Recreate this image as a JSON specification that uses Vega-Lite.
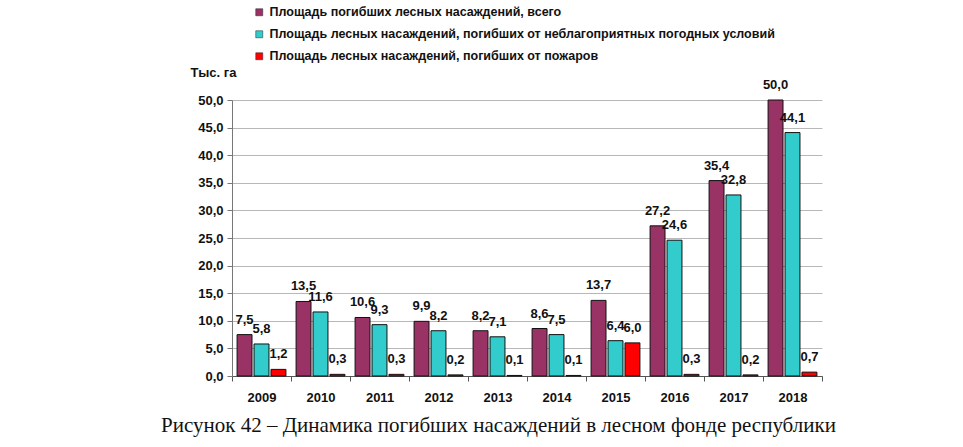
{
  "$schema": "https://vega.github.io/schema/vega-lite/v6.json",
  "width": 590,
  "height": 276,
  "autosize": {"type": "none"},
  "padding": {"left": 232, "top": 100, "right": 141, "bottom": 71},
  "background": "white",
  "config": {
    "view": {"stroke": null},
    "locale": {"number": {"decimal": ",", "thousands": " ", "grouping": [3], "currency": ["", ""]}},
    "font": "Liberation Sans"
  },
  "data": {
    "values": [
      {"year": "2009", "series": "total", "value": 7.5},
      {"year": "2009", "series": "weather", "value": 5.8},
      {"year": "2009", "series": "fire", "value": 1.2},
      {"year": "2010", "series": "total", "value": 13.5},
      {"year": "2010", "series": "weather", "value": 11.6},
      {"year": "2010", "series": "fire", "value": 0.3},
      {"year": "2011", "series": "total", "value": 10.6},
      {"year": "2011", "series": "weather", "value": 9.3},
      {"year": "2011", "series": "fire", "value": 0.3},
      {"year": "2012", "series": "total", "value": 9.9},
      {"year": "2012", "series": "weather", "value": 8.2},
      {"year": "2012", "series": "fire", "value": 0.2},
      {"year": "2013", "series": "total", "value": 8.2},
      {"year": "2013", "series": "weather", "value": 7.1},
      {"year": "2013", "series": "fire", "value": 0.1},
      {"year": "2014", "series": "total", "value": 8.6},
      {"year": "2014", "series": "weather", "value": 7.5},
      {"year": "2014", "series": "fire", "value": 0.1},
      {"year": "2015", "series": "total", "value": 13.7},
      {"year": "2015", "series": "weather", "value": 6.4},
      {"year": "2015", "series": "fire", "value": 6.0},
      {"year": "2016", "series": "total", "value": 27.2},
      {"year": "2016", "series": "weather", "value": 24.6},
      {"year": "2016", "series": "fire", "value": 0.3},
      {"year": "2017", "series": "total", "value": 35.4},
      {"year": "2017", "series": "weather", "value": 32.8},
      {"year": "2017", "series": "fire", "value": 0.2},
      {"year": "2018", "series": "total", "value": 50.0},
      {"year": "2018", "series": "weather", "value": 44.1},
      {"year": "2018", "series": "fire", "value": 0.7}
    ]
  },
  "encoding": {
    "x": {
      "field": "year",
      "type": "nominal",
      "scale": {"paddingInner": 0, "paddingOuter": 0},
      "axis": {
        "title": "Рисунок 42 – Динамика погибших насаждений в лесном фонде республики",
        "titleFont": "Liberation Serif",
        "titleFontSize": 21,
        "titleFontWeight": "normal",
        "titleColor": "#111",
        "titleX": 266,
        "titleY": 49,
        "titleAlign": "center",
        "titleBaseline": "middle",
        "labelAngle": 0,
        "labelFontSize": 13,
        "labelFontWeight": "bold",
        "labelColor": "#111",
        "labelPadding": 10,
        "tickBand": "extent",
        "tickSize": 5,
        "tickColor": "#555",
        "domainColor": "#555"
      }
    },
    "xOffset": {
      "field": "series",
      "type": "nominal",
      "sort": ["total", "weather", "fire"],
      "scale": {"paddingInner": 0.12, "paddingOuter": 0.3}
    },
    "y": {
      "field": "value",
      "type": "quantitative",
      "scale": {"domain": [0, 50], "nice": false},
      "axis": {
        "title": "Тыс. га",
        "titleAngle": 0,
        "titleX": -42,
        "titleY": -28,
        "titleAlign": "left",
        "titleBaseline": "middle",
        "titleFontSize": 13,
        "titleFontWeight": "bold",
        "titleColor": "#111",
        "values": [0, 5, 10, 15, 20, 25, 30, 35, 40, 45, 50],
        "format": ".1f",
        "labelFontSize": 13,
        "labelFontWeight": "bold",
        "labelColor": "#111",
        "labelPadding": 4,
        "tickSize": 5,
        "tickColor": "#777",
        "domainColor": "#777",
        "gridColor": "#b8b8b8"
      }
    }
  },
  "layer": [
    {
      "mark": {"type": "bar", "stroke": "#111", "strokeWidth": 1},
      "encoding": {
        "color": {
          "field": "series",
          "type": "nominal",
          "sort": ["total", "weather", "fire"],
          "scale": {
            "domain": ["total", "weather", "fire"],
            "range": ["#993366", "#33CCCC", "#FF0000"]
          },
          "legend": {
            "title": null,
            "orient": "none",
            "legendX": 21,
            "legendY": -94,
            "direction": "vertical",
            "padding": 0,
            "symbolType": "square",
            "symbolSize": 49,
            "symbolStrokeColor": "#222",
            "symbolStrokeWidth": 0.5,
            "labelFontSize": 12.5,
            "labelFontWeight": "bold",
            "labelColor": "#111",
            "labelLimit": 0,
            "labelOffset": 4,
            "rowPadding": 9,
            "labelExpr": "datum.value == 'total' ? 'Площадь погибших лесных насаждений, всего' : datum.value == 'weather' ? 'Площадь лесных насаждений, погибших от неблагоприятных погодных условий' : 'Площадь лесных насаждений, погибших от пожаров'"
          }
        }
      }
    },
    {
      "mark": {"type": "text", "baseline": "bottom", "dy": -8, "fontSize": 13, "fontWeight": "bold", "color": "#111"},
      "encoding": {
        "text": {"field": "value", "type": "quantitative", "format": ".1f"}
      }
    }
  ]
}
